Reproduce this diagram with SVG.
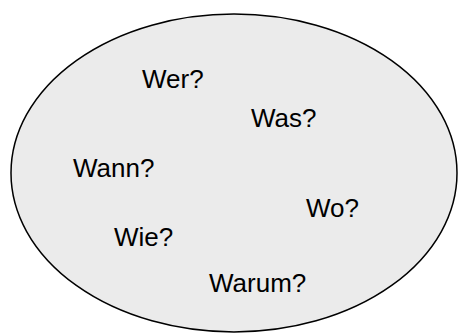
<svg xmlns="http://www.w3.org/2000/svg" width="458" height="336" viewBox="0 0 458 336">
<style>
.t{font-family:"Liberation Sans",Arial,sans-serif;font-size:26px;fill:#000}
</style>
<rect width="458" height="336" fill="#fff"/>
<g id="ellipse"><ellipse cx="234" cy="173" rx="223" ry="159" fill="#ebebeb" stroke="#000" stroke-width="1.5"/></g>
<g id="wer"><text class="t" x="142" y="88">Wer?</text></g>
<g id="was"><text class="t" x="251" y="127">Was?</text></g>
<g id="wann"><text class="t" x="73" y="177">Wann?</text></g>
<g id="wo"><text class="t" x="306" y="217">Wo?</text></g>
<g id="wie"><text class="t" x="114" y="246">Wie?</text></g>
<g id="warum"><text class="t" x="209" y="292">Warum?</text></g>
</svg>
